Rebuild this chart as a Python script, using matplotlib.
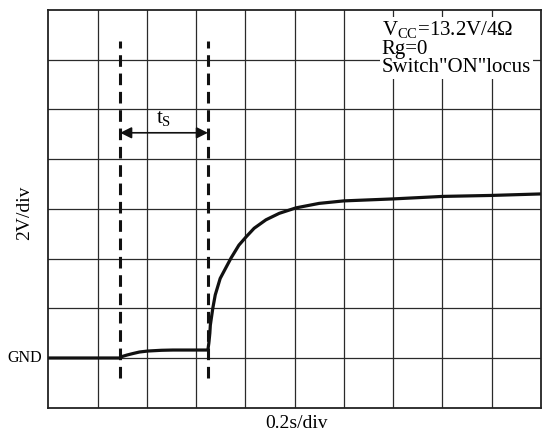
import matplotlib
matplotlib.use("Agg")
import matplotlib.pyplot as plt

plt.rcParams['font.family'] = ['Liberation Serif', 'DejaVu Serif']
plt.rcParams['mathtext.fontset'] = 'custom'
plt.rcParams['mathtext.rm'] = 'Liberation Serif'
plt.rcParams['mathtext.it'] = 'Liberation Serif'

# Waveform (x in divisions of 0.2 s, y in divisions of 2 V; GND at 1 div)
curve_x = [0.0, 1.45, 1.50, 1.60, 1.72, 1.85, 2.02, 2.30, 2.53, 3.24, 3.26, 3.28,
           3.29, 3.34, 3.39, 3.49, 3.71, 3.87, 4.02, 4.18, 4.42, 4.69, 5.03,
           5.5, 6.0, 7.0, 8.0, 9.0, 10.0]
curve_y = [1.0, 1.0, 1.03, 1.06, 1.09, 1.12, 1.14, 1.155, 1.16, 1.16, 1.30, 1.50,
           1.66, 2.00, 2.27, 2.60, 3.01, 3.27, 3.44, 3.61, 3.78, 3.91, 4.02,
           4.11, 4.16, 4.20, 4.25, 4.27, 4.30]

marker_x = [1.46, 3.24]
marker_ymin, marker_ymax = 0.6, 7.38
arrow_y = 5.53
gnd_level = 1.0
n_xdiv, n_ydiv = 10, 8

fig = plt.figure(figsize=(5.42, 4.38), dpi=100)
ax = fig.add_axes([48.3 / 542, 30.3 / 438, 1 - 49.5 / 542, 397.7 / 438])
ax.set_xlim(0, n_xdiv)
ax.set_ylim(0, n_ydiv)

for i in range(1, n_xdiv):
    ax.axvline(i, color='#2a2a2a', lw=0.9, zorder=1)
for j in range(1, n_ydiv):
    ax.axhline(j, color='#2a2a2a', lw=0.9, zorder=1)

for s in ax.spines.values():
    s.set_linewidth(1.3)
    s.set_color('#222222')
ax.set_xticks([])
ax.set_yticks([])

ax.plot(curve_x, curve_y, color='#111111', lw=2.3, zorder=4,
        solid_capstyle='butt', solid_joinstyle='round')

for mx in marker_x:
    ax.plot([mx, mx], [marker_ymin, marker_ymax], color='#111111', lw=2.2,
            dashes=(3.8, 2.2), zorder=3)

ax.annotate('', xy=(marker_x[0], arrow_y), xytext=(marker_x[1], arrow_y),
            arrowprops=dict(arrowstyle='<|-|>', color='#111111', lw=1.2,
                            mutation_scale=17, shrinkA=0, shrinkB=0), zorder=5)
ax.text((marker_x[0] + marker_x[1]) / 2, arrow_y + 0.1, r't$_\mathrm{S}$',
        ha='center', va='bottom', fontsize=15, zorder=5)

ax.text(6.77, 7.82,
        'V$_{\\mathrm{CC}}$=13.2V/4Ω\nRg=0\nSwitch"ON"locus',
        ha='left', va='top', fontsize=15, linespacing=0.98, zorder=6,
        bbox=dict(facecolor='white', edgecolor='none', pad=1.5))

ax.text(-0.12, gnd_level, 'GND', ha='right', va='center', fontsize=11.5,
        transform=ax.transData)
fig.text(25 / 542, 1 - 213 / 438, '2V/div', rotation=90, ha='center',
         va='center', fontsize=14)
fig.text(296 / 542, 1 - 423 / 438, '0.2s/div', ha='center', va='center',
         fontsize=14)

fig.savefig('out.png', dpi=100)
